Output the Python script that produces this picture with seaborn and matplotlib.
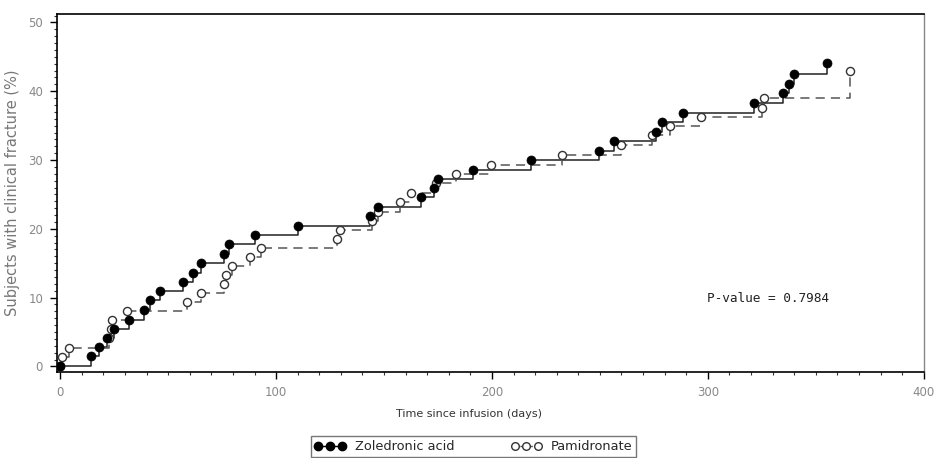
import numpy as np
import pandas as pd
import matplotlib
matplotlib.use("Agg")
import matplotlib.pyplot as plt
from matplotlib.lines import Line2D
from matplotlib.ticker import MultipleLocator
import seaborn as sns

# ---- data ----
zol_days = [0, 14.2, 18.0, 21.9, 24.8, 31.9, 38.9, 41.8, 46.2, 57.0, 61.4, 65.0,
            76.1, 78.2, 90.3, 110.0, 143.4, 147.0, 167.1, 173.0, 175.2, 191.1,
            218.2, 249.7, 256.5, 276.2, 278.6, 288.6, 321.4, 334.6, 337.6, 339.7, 355.0]
zol_pct = [0, 1.5, 2.8, 4.2, 5.5, 6.8, 8.2, 9.6, 10.9, 12.3, 13.6, 15.0,
           16.4, 17.8, 19.1, 20.4, 21.8, 23.1, 24.6, 26.0, 27.3, 28.6,
           30.0, 31.3, 32.8, 34.1, 35.5, 36.9, 38.3, 39.7, 41.0, 42.5, 44.1]

pam_days = [0, 0.8, 3.9, 22.5, 23.3, 24.2, 30.9, 58.8, 65.0, 76.0, 77.0, 79.5,
            88.0, 92.8, 128.0, 129.8, 144.3, 147.2, 157.6, 162.3, 174.0, 183.3,
            199.4, 232.5, 260.0, 274.0, 282.4, 296.7, 324.9, 326.0, 365.7]
pam_pct = [0, 1.4, 2.7, 4.1, 5.4, 6.7, 8.0, 9.3, 10.7, 12.0, 13.3, 14.6,
           15.9, 17.2, 18.5, 19.9, 21.2, 22.5, 23.9, 25.2, 26.6, 27.9,
           29.3, 30.7, 32.2, 33.6, 35.0, 36.3, 37.6, 39.0, 42.9]

groups = ["Zoledronic acid", "Pamidronate"]
x_ticks = [0, 100, 200, 300, 400]
y_ticks = [0, 10, 20, 30, 40, 50]
p_text = "P-value = 0.7984"
x_label = "Time since infusion (days)"
y_label = "Subjects with clinical fracture (%)"

df = pd.concat([
    pd.DataFrame({"days": zol_days, "pct": zol_pct, "group": groups[0]}),
    pd.DataFrame({"days": pam_days, "pct": pam_pct, "group": groups[1]}),
], ignore_index=True)

sns.set_style("white")
plt.rcParams["font.family"] = ["DejaVu Sans"]

fig = plt.figure(figsize=(9.34, 4.58), dpi=100)
ax = fig.add_axes([0.061, 0.188, 0.928, 0.781])

line_col = {groups[0]: "#222222", groups[1]: "#555555"}
sns.lineplot(data=df, x="days", y="pct", hue="group", style="group",
             palette=line_col, dashes={groups[0]: "", groups[1]: (6, 4)},
             drawstyle="steps-post", estimator=None, sort=False,
             linewidth=1.1, legend=False, ax=ax)

zdf = df[df.group == groups[0]]
pdf = df[df.group == groups[1]]
sns.scatterplot(data=pdf, x="days", y="pct", marker="o", s=34,
                facecolor="white", edgecolor="#333333", linewidth=1.0,
                zorder=3, legend=False, ax=ax)
sns.scatterplot(data=zdf, x="days", y="pct", marker="o", s=42,
                color="black", edgecolor="black", linewidth=0.5,
                zorder=4, legend=False, ax=ax)

ax.set_xlim(-1.5, 400)
ax.set_ylim(-0.8, 51.2)
ax.set_xticks(x_ticks)
ax.set_yticks(y_ticks)
ax.xaxis.set_minor_locator(MultipleLocator(10))
ax.yaxis.set_minor_locator(MultipleLocator(1))
ax.tick_params(axis="both", which="major", direction="out", length=5, width=1.0,
               color="black", labelsize=8.5, labelcolor="#888888", pad=5)
ax.tick_params(axis="both", which="minor", direction="out", length=2.5, width=0.8,
               color="#333333")
ax.tick_params(axis="x", which="both", bottom=True)
ax.tick_params(axis="y", which="both", left=True)

for side in ["left", "bottom", "top"]:
    ax.spines[side].set_color("black")
    ax.spines[side].set_linewidth(1.2)
ax.spines["right"].set_color("#888888")
ax.spines["right"].set_linewidth(1.0)

ax.set_xlabel(x_label, fontsize=8, color="#333333")
ax.xaxis.set_label_coords(0.475, -0.105)
ax.set_ylabel(y_label, fontsize=10.5, color="#777777")
ax.yaxis.set_label_coords(-0.043, 0.5)

ax.text(328, 9.8, p_text, fontsize=9.2, family="DejaVu Sans Mono",
        color="#222222", ha="center", va="center")

handles = [
    Line2D([], [], color="black", linestyle="-", linewidth=1.0, marker="o",
           markersize=6, markerfacecolor="black", markeredgecolor="black"),
    Line2D([], [], color="#555555", linestyle=(0, (2, 1.5)), linewidth=1.0, marker="o",
           markersize=5.5, markerfacecolor="white", markeredgecolor="#333333"),
]
leg = fig.legend(handles, groups, loc="center", bbox_to_anchor=(0.507, 0.025),
                 ncol=2, numpoints=3, frameon=True, fancybox=False,
                 fontsize=9.3, handlelength=2.4, handletextpad=0.7,
                 columnspacing=4.4, borderpad=0.3, borderaxespad=0.0,
                 edgecolor="#555555")
leg.get_frame().set_linewidth(1.0)

fig.savefig("out.png", dpi=100)
